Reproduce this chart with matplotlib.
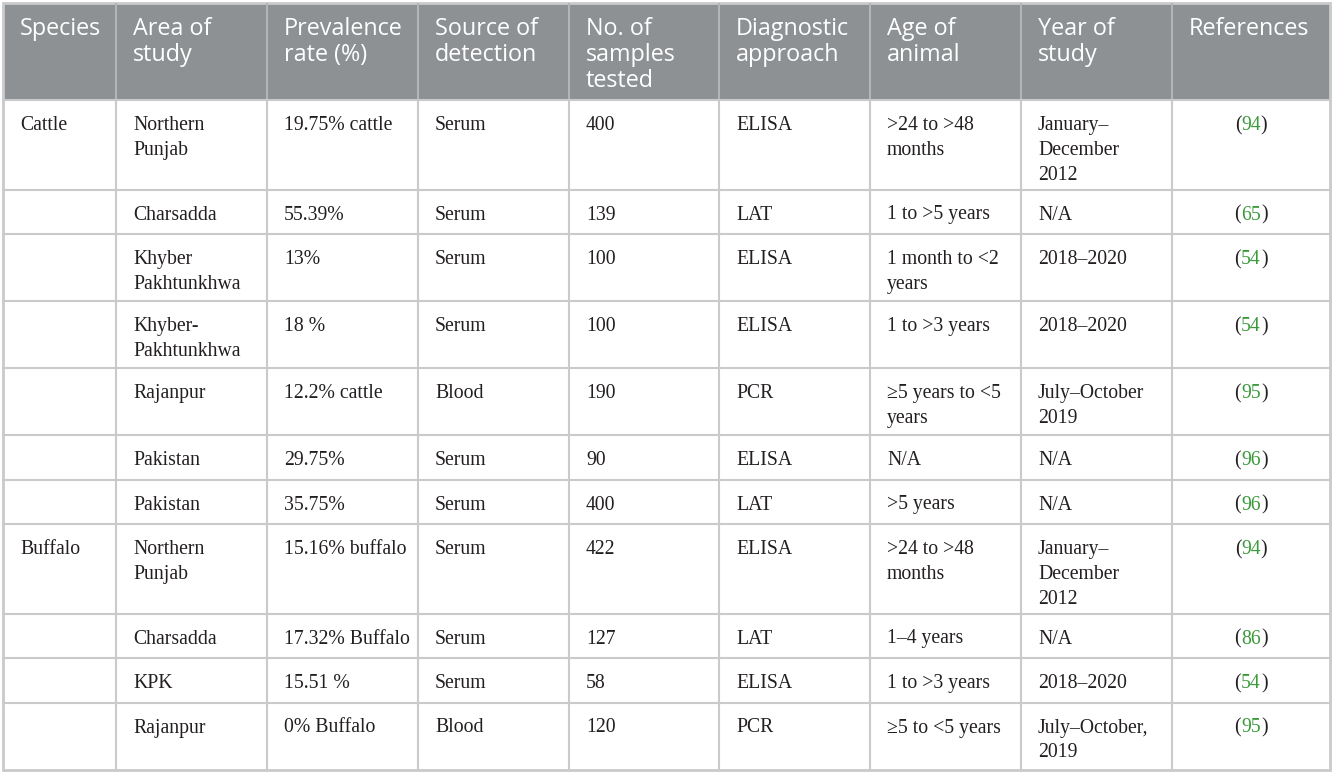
import matplotlib.pyplot as plt
from matplotlib.patches import Rectangle

# table content
headers = ['Species', 'Area of\nstudy', 'Prevalence\nrate (%)', 'Source of\ndetection',
           'No. of\nsamples\ntested', 'Diagnostic\napproach', 'Age of\nanimal',
           'Year of\nstudy', 'References']
species = ['Cattle', '', '', '', '', '', '', 'Buffalo', '', '', '']
areas = ['Northern\nPunjab', 'Charsadda', 'Khyber\nPakhtunkhwa', 'Khyber-\nPakhtunkhwa',
         'Rajanpur', 'Pakistan', 'Pakistan', 'Northern\nPunjab', 'Charsadda', 'KPK', 'Rajanpur']
prevalence = ['19.75% cattle', '55.39%', '13%', '18 %', '12.2% cattle', '29.75%', '35.75%',
              '15.16% buffalo', '17.32% Buffalo', '15.51 %', '0% Buffalo']
source = ['Serum', 'Serum', 'Serum', 'Serum', 'Blood', 'Serum', 'Serum', 'Serum', 'Serum',
          'Serum', 'Blood']
samples = ['400', '139', '100', '100', '190', '90', '400', '422', '127', '58', '120']
diagnostic = ['ELISA', 'LAT', 'ELISA', 'ELISA', 'PCR', 'ELISA', 'LAT', 'ELISA', 'LAT',
              'ELISA', 'PCR']
age = ['>24 to >48\nmonths', '1 to >5 years', '1 month to <2\nyears', '1 to >3 years',
       '≥5 years to <5\nyears', 'N/A', '>5 years', '>24 to >48\nmonths', '1–4 years',
       '1 to >3 years', '≥5 to <5 years']
year = ['January–\nDecember\n2012', 'N/A', '2018–2020', '2018–2020', 'July–October\n2019',
        'N/A', 'N/A', 'January–\nDecember\n2012', 'N/A', '2018–2020', 'July–October,\n2019']
refs = ['94', '65', '54', '54', '95', '96', '96', '94', '86', '54', '95']

columns = [species, areas, prevalence, source, samples, diagnostic, age, year]

# layout in pixels
W, H = 1333, 773
col_x = [3, 116, 267, 418, 569, 719, 870, 1021, 1172, 1330]
top = 3
header_h = 97
pad_x = 17

header_bg = '#8d9194'
grid_col = '#c9cbcb'
green = '#3a9a3a'
ink = '#231f20'
serif = 'Liberation Serif'
body_fs = 14.2
head_fs = 16.8

fig = plt.figure(figsize=(W / 100, H / 100), dpi=100)
ax = fig.add_axes((0, 0, 1, 1))
ax.set_xlim(0, W)
ax.set_ylim(H, 0)
ax.axis('off')
renderer = fig.canvas.get_renderer()


def text_width(s):
    # pixel width of a string in the body font
    t = ax.text(0, 0, s, family=serif, fontsize=body_fs)
    w = t.get_window_extent(renderer).width
    t.remove()
    return w


# row heights from the number of text lines
row_tops = [top + header_h]
for i in range(len(areas)):
    n = max(c[i].count('\n') + 1 for c in columns)
    row_tops.append(row_tops[-1] + 22.5 * n + 22)
bottom = row_tops[-1]

# header
ax.add_patch(Rectangle((col_x[0], top), col_x[-1] - col_x[0], header_h,
                       facecolor=header_bg, edgecolor='none'))
for j, h in enumerate(headers):
    ax.text(col_x[j] + pad_x, top + 14, h, ha='left', va='top', color='white',
            family='Open Sans', fontsize=head_fs, linespacing=1.1)

# body
for i in range(len(areas)):
    y = row_tops[i] + 16
    for j, col in enumerate(columns):
        if col[i]:
            ax.text(col_x[j] + pad_x, y, col[i], ha='left', va='top', color=ink,
                    family=serif, fontsize=body_fs, linespacing=1.42)
    # reference: green number inside black parentheses, centred in the cell
    full = text_width('(' + refs[i] + ')')
    x0 = (col_x[8] + col_x[9]) / 2 - full / 2
    x1 = x0 + text_width('(')
    x2 = x0 + text_width('(' + refs[i])
    ax.text(x0, y, '(', ha='left', va='top', color=ink, family=serif, fontsize=body_fs)
    ax.text(x1, y, refs[i], ha='left', va='top', color=green, family=serif, fontsize=body_fs)
    ax.text(x2, y, ')', ha='left', va='top', color=ink, family=serif, fontsize=body_fs)

# grid lines
for x in col_x[1:-1]:
    ax.plot([x, x], [top, top + header_h], color='#b3b6b8', lw=1.5, solid_capstyle='butt')
    ax.plot([x, x], [top + header_h, bottom], color=grid_col, lw=1.5, solid_capstyle='butt')
for y in row_tops[:-1]:
    ax.plot([col_x[0], col_x[-1]], [y, y], color=grid_col, lw=1.5)
ax.add_patch(Rectangle((col_x[0], top), col_x[-1] - col_x[0], bottom - top,
                       facecolor='none', edgecolor=grid_col, lw=2))

fig.savefig('out.png', dpi=100)
